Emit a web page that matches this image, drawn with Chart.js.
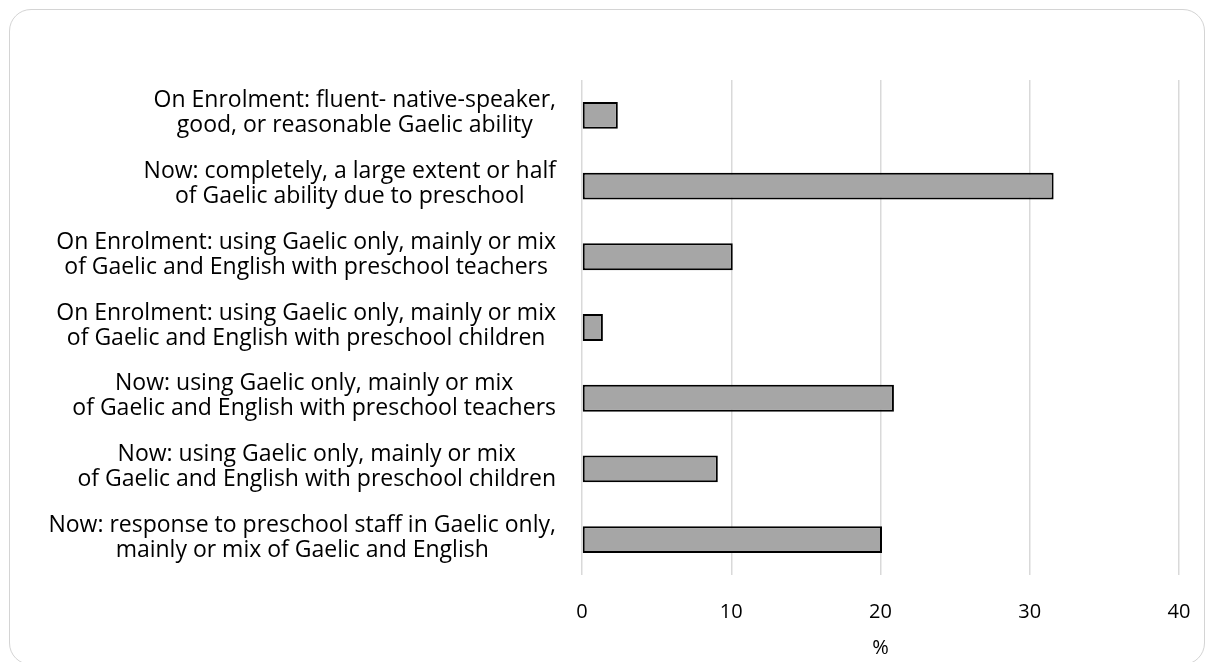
<!DOCTYPE html>
<html>
<head>
<meta charset="utf-8">
<script src="https://cdn.jsdelivr.net/npm/chart.js@4.4.1/dist/chart.umd.min.js"></script>
<style>
  html, body { margin: 0; padding: 0; background: #fff; overflow: hidden; }
  #wrap { position: relative; width: 1208px; height: 662px; }
  #frame {
    position: absolute; left: 9px; top: 9px; width: 1196px; height: 656px;
    border: 1.5px solid #d4d4d4; border-radius: 22px; box-sizing: border-box;
  }
  canvas { position: absolute; left: 0; top: 0; }
</style>
</head>
<body>
<div id="wrap">
  <div id="frame"></div>
  <canvas id="chart" width="1208" height="662"></canvas>
</div>
<script>
const categories = [
    ['On Enrolment: fluent- native-speaker,', 'good, or reasonable Gaelic ability'],
    ['Now: completely, a large extent or half', 'of Gaelic ability due to preschool'],
    ['On Enrolment: using Gaelic only, mainly or mix', 'of Gaelic and English with preschool teachers'],
    ['On Enrolment: using Gaelic only, mainly or mix', 'of Gaelic and English with preschool children'],
    ['Now: using Gaelic only, mainly or mix', 'of Gaelic and English with preschool teachers'],
    ['Now: using Gaelic only, mainly or mix', 'of Gaelic and English with preschool children'],
    ['Now: response to preschool staff in Gaelic only,', 'mainly or mix of Gaelic and English']
];
const percentValues = [2.4, 31.6, 10.1, 1.4, 20.9, 9.1, 20.1];
const xTicks = [0, 10, 20, 30, 40];

const FONT = '"Open Sans"';
const labelFontSize = 23;

// y labels: lines centred against each other, block right-aligned to the axis
const centredLabels = {
    id: 'centredLabels',
    afterDraw(chart) {
        const ctx = chart.ctx;
        const yScale = chart.scales.y;
        ctx.save();
        ctx.font = `${labelFontSize}px ${FONT}`;
        ctx.fillStyle = '#000';
        ctx.textAlign = 'center';
        ctx.textBaseline = 'middle';
        const lineH = 25;
        categories.forEach((lines, i) => {
            const yc = yScale.getPixelForTick(i) - 2;
            const maxW = Math.max(...lines.map(l => ctx.measureText(l).width));
            const cx = yScale.right - 26 - maxW / 2;
            lines.forEach((line, j) => {
                ctx.fillText(line, cx, yc + (j - (lines.length - 1) / 2) * lineH);
            });
        });
        ctx.restore();
    }
};

const ctx = document.getElementById('chart').getContext('2d');
new Chart(ctx, {
    type: 'bar',
    data: {
        labels: categories,
        datasets: [{
            data: percentValues,
            backgroundColor: '#a6a6a6',
            borderColor: '#000',
            borderWidth: 2,
            borderSkipped: false,
            categoryPercentage: 1,
            barPercentage: 0.38
        }]
    },
    options: {
        indexAxis: 'y',
        responsive: false,
        animation: false,
        layout: { padding: { top: 80, right: 29, bottom: 2, left: 0 } },
        plugins: {
            legend: { display: false },
            tooltip: { enabled: false }
        },
        scales: {
            x: {
                min: 0,
                max: 40,
                afterBuildTicks: (scale) => {
                    scale.ticks = xTicks.map(v => ({ value: v }));
                },
                afterFit: (scale) => {
                    scale.height = 85;
                    scale.paddingLeft = 0;
                    scale.paddingRight = 0;
                },
                grid: { color: '#d9d9d9', lineWidth: 1.5, drawTicks: false },
                border: { display: false },
                ticks: {
                    padding: 25,
                    color: '#000',
                    font: { family: FONT, size: 20 }
                },
                title: {
                    display: true,
                    text: '%',
                    color: '#000',
                    font: { family: FONT, size: 20 },
                    padding: { top: 0, bottom: 0 }
                }
            },
            y: {
                grid: { display: false },
                border: { display: false },
                ticks: { display: false },
                afterFit: (scale) => { scale.width = 582; }
            }
        }
    },
    plugins: [centredLabels]
});
</script>
</body>
</html>
